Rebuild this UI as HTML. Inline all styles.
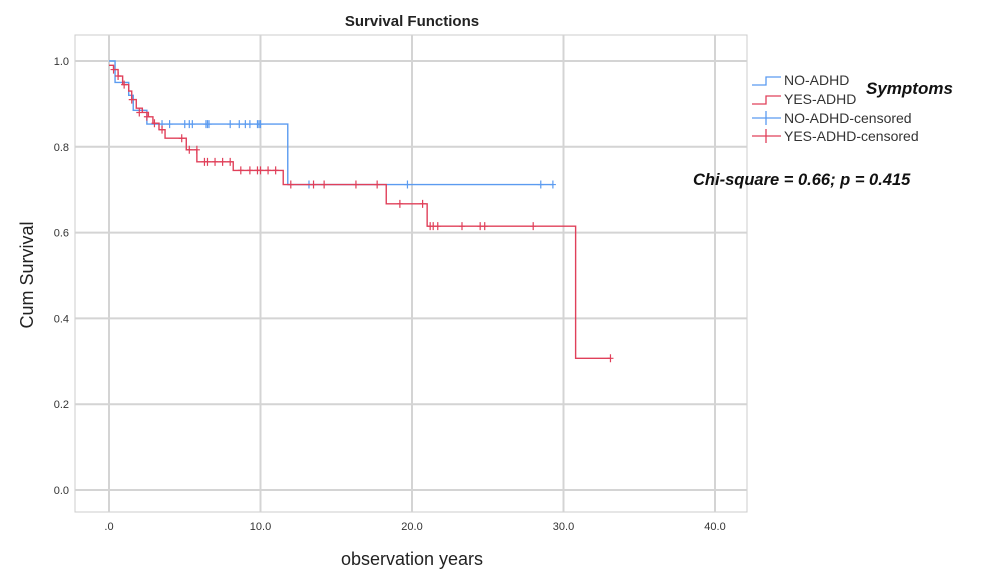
<!DOCTYPE html>
<html><head><meta charset="utf-8"><style>
body{margin:0;background:#fff;width:982px;height:586px;overflow:hidden;font-family:"Liberation Sans",sans-serif}
svg{display:block}
</style></head><body>
<svg id="chart" width="982" height="586">
<rect x="75" y="35" width="672" height="477" fill="#fff" stroke="#ccc"/>
<g id="grid"></g><g id="ticks"></g><g id="series"></g>
<text x="412" y="26" text-anchor="middle" font-size="15" font-weight="bold" fill="#222">Survival Functions</text>
<text transform="translate(33,275) rotate(-90)" text-anchor="middle" font-size="18" fill="#222">Cum Survival</text>
<text x="412" y="565" text-anchor="middle" font-size="18" fill="#222">observation years</text>
<g font-size="14" fill="#333">
<path d="M752 85 H766 V77 H781" fill="none" stroke="#5b9bf0" stroke-width="1.3"/>
<text x="784" y="85">NO-ADHD</text>
<path d="M752 104 H766 V96 H781" fill="none" stroke="#e0405a" stroke-width="1.3"/>
<text x="784" y="104">YES-ADHD</text>
<path d="M752 118 H781 M766 111 V125" stroke="#5b9bf0" stroke-width="1.3"/>
<text x="784" y="123">NO-ADHD-censored</text>
<path d="M752 136 H781 M766 129 V143" stroke="#e0405a" stroke-width="1.3"/>
<text x="784" y="141">YES-ADHD-censored</text>
<text x="866" y="94" font-size="17" font-weight="bold" font-style="italic" fill="#111">Symptoms</text>
</g>
<text x="693" y="185" font-size="16.5" font-weight="bold" font-style="italic" fill="#111">Chi-square = 0.66; p = 0.415</text>
</svg>
<script>
const xTicks=[0,10,20,30,40];
const xTickLabels=[".0","10.0","20.0","30.0","40.0"];
const yTicks=[0,0.2,0.4,0.6,0.8,1.0];
const yTickLabels=["0.0","0.2","0.4","0.6","0.8","1.0"];
const noTimes=[0,0.4,1.3,1.6,2.5,11.8,29.3];
const noSurv=[1.0,0.95,0.92,0.885,0.853,0.712,0.712];
const noCens=[3.5,4,5,5.3,5.5,6.4,6.5,6.6,8,8.6,9,9.3,9.8,9.9,10,13.2,19.7,28.5,29.3];
const noCensSurv=[0.853,0.853,0.853,0.853,0.853,0.853,0.853,0.853,0.853,0.853,0.853,0.853,0.853,0.853,0.853,0.712,0.712,0.712,0.712];
const yesTimes=[0,0.3,0.6,0.9,1.3,1.5,1.8,2.2,2.6,2.9,3.3,3.7,5.1,5.8,8.2,11.5,18.3,21.0,30.8,33.1];
const yesSurv=[0.99,0.98,0.965,0.945,0.93,0.91,0.89,0.88,0.87,0.855,0.84,0.82,0.793,0.765,0.745,0.712,0.667,0.615,0.307,0.307];
const yesCens=[0.3,0.6,1,1.5,2,2.5,3,3.5,4.8,5.3,5.8,6.3,6.5,7,7.5,8,8.7,9.3,9.8,10,10.5,11,12,13.5,14.2,16.3,17.7,19.2,20.7,21.2,21.4,21.7,23.3,24.5,24.8,28,33.1];
const yesCensSurv=[0.98,0.965,0.945,0.91,0.88,0.87,0.855,0.84,0.82,0.793,0.793,0.765,0.765,0.765,0.765,0.765,0.745,0.745,0.745,0.745,0.745,0.745,0.712,0.712,0.712,0.712,0.712,0.667,0.667,0.615,0.615,0.615,0.615,0.615,0.615,0.615,0.307];
const X=t=>109+15.15*t, Y=s=>490-429*s;
const NS="http://www.w3.org/2000/svg";
function mk(tag,attrs,parent){const e=document.createElementNS(NS,tag);for(const k in attrs)e.setAttribute(k,attrs[k]);parent.appendChild(e);return e;}
const grid=document.getElementById('grid'),ticks=document.getElementById('ticks'),ser=document.getElementById('series');
xTicks.forEach((v,i)=>{
 const l=mk('line',{x1:X(v),x2:X(v),y1:35,y2:512,stroke:'#d4d4d4','stroke-width':2},grid);
 
 
 const t=mk('text',{x:X(v),y:530,'text-anchor':'middle','font-size':11,fill:'#333'},ticks);t.textContent=xTickLabels[i];
 
 
});
yTicks.forEach((v,i)=>{
 const l=mk('line',{x1:75,x2:747,y1:Y(v),y2:Y(v),stroke:'#d4d4d4','stroke-width':2},grid);
 
 
 const t=mk('text',{x:69,y:Y(v)+4,'text-anchor':'end','font-size':11,fill:'#333'},ticks);t.textContent=yTickLabels[i];
 
 
});
function step(times,surv,color,name){
 let d='M'+X(times[0])+' '+Y(surv[0]);
 for(let i=1;i<times.length;i++){d+=' H'+X(times[i])+' V'+Y(surv[i]);}
 const p=mk('path',{d:d,fill:'none',stroke:color,'stroke-width':1.4},ser);
 
 
}
function cens(times,surv,color,name){
 times.forEach((t,i)=>{
  const p=mk('path',{d:'M'+(X(t)-3)+' '+Y(surv[i])+' H'+(X(t)+3)+' M'+X(t)+' '+(Y(surv[i])-4)+' V'+(Y(surv[i])+4),stroke:color,'stroke-width':1.2},ser);
  
  
 });
}
step(noTimes,noSurv,'#5b9bf0','no-adhd-curve');
cens(noCens,noCensSurv,'#5b9bf0','no-adhd-censor-mark');
step(yesTimes,yesSurv,'#e0405a','yes-adhd-curve');
cens(yesCens,yesCensSurv,'#e0405a','yes-adhd-censor-mark');
</script>
</body></html>
